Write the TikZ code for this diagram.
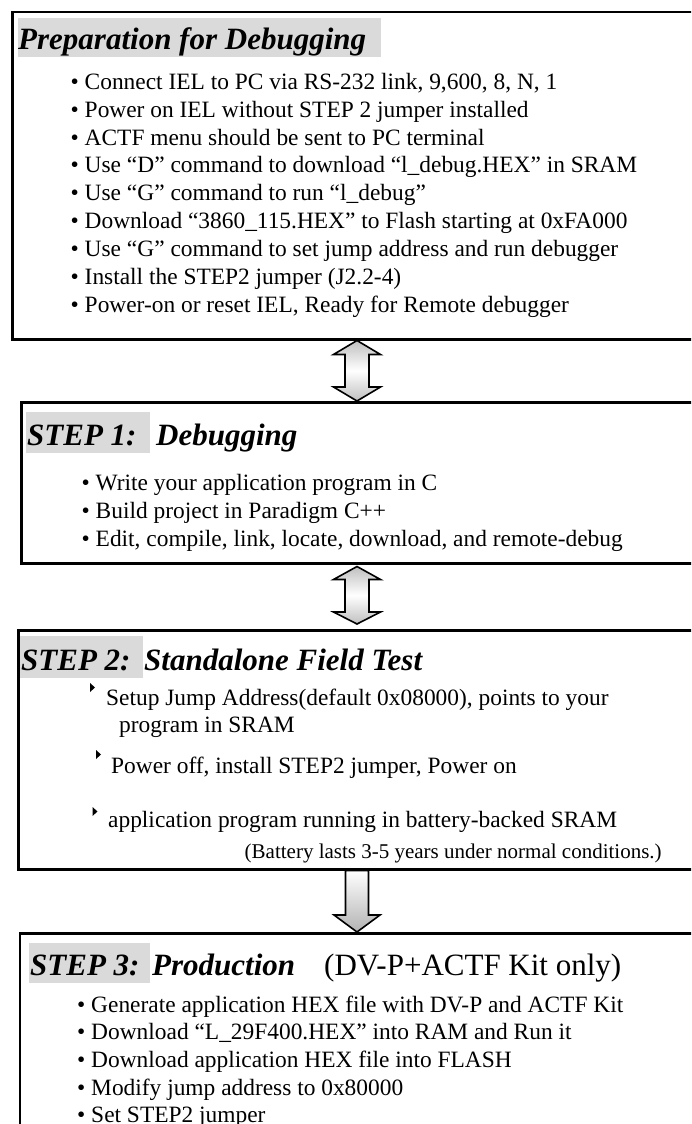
\documentclass[tikz,border=0pt]{standalone}
\usepackage{fontspec}
\setmainfont{Liberation Serif}
\usetikzlibrary{calc}

\definecolor{titlebg}{RGB}{218,218,218}

\tikzset{
  panel/.style={draw=black, line width=2.5pt, anchor=north west, inner sep=0pt, minimum width=700pt},
  headbg/.style={fill=titlebg, draw=none, anchor=north west, inner sep=0pt},
  headtext/.style={font=\fontsize{31}{36}\selectfont\bfseries\itshape, inner sep=0pt, anchor=base west},
  headnote/.style={font=\fontsize{31}{36}\selectfont, inner sep=0pt, anchor=base west},
  item/.style={font=\fontsize{23.4}{28}\selectfont, inner sep=0pt, anchor=base west},
  note/.style={font=\fontsize{21}{25}\selectfont, inner sep=0pt, anchor=base west},
  dblarrow/.style={draw=black, line width=1.6pt, line join=miter,
    top color=gray!50, bottom color=gray!50, middle color=white},
  downarrow/.style={draw=black, line width=1.6pt, line join=miter,
    top color=white, bottom color=gray!60},
  tri/.style={fill=black}
}

\begin{document}
\begin{tikzpicture}[x=1pt, y=-1pt]
\clip (0,0) rectangle (691,1124);
\fill[white] (0,0) rectangle (691,1124);

% ---------- Preparation for Debugging ----------
\node[panel, minimum height=327pt] (b1) at (11,11) {};
\node[headbg, minimum width=363pt, minimum height=39pt] (h1) at (18,18) {};
\node[headtext] (t1) at (18,50) {Preparation for Debugging};
\node[item] (p1) at (70.5,89)  {• Connect IEL to PC via RS-232 link, 9,600, 8, N, 1};
\node[item] (p2) at (70.5,117) {• Power on IEL without STEP 2 jumper installed};
\node[item] (p3) at (70.5,145) {• ACTF menu should be sent to PC terminal};
\node[item] (p4) at (70.5,172) {• Use “D” command to download “l\_debug.HEX” in SRAM};
\node[item] (p5) at (70.5,200) {• Use “G” command to run “l\_debug”};
\node[item] (p6) at (70.5,228) {• Download “3860\_115.HEX” to Flash starting at 0xFA000};
\node[item] (p7) at (70.5,256) {• Use “G” command to set jump address and run debugger};
\node[item] (p8) at (70.5,284) {• Install the STEP2 jumper (J2.2-4)};
\node[item] (p9) at (70.5,312) {• Power-on or reset IEL, Ready for Remote debugger};

% ---------- STEP 1 ----------
\node[panel, minimum height=161pt] (b2) at (20,401) {};
\node[headbg, minimum width=124pt, minimum height=41pt] (h2) at (26,412) {};
\node[headtext] (s1) at (27,445) {STEP 1:};
\node[headtext] (t2) at (156,445) {Debugging};
\node[item] (q1) at (81.5,490) {• Write your application program in C};
\node[item] (q2) at (81.5,518) {• Build project in Paradigm C++};
\node[item] (q3) at (81.5,546) {• Edit, compile, link, locate, download, and remote-debug};

% ---------- STEP 2 ----------
\node[panel, minimum height=239pt] (b3) at (17,629) {};
\node[headbg, minimum width=123pt, minimum height=42pt] (h3) at (20,636) {};
\node[headtext] (s2) at (21,670) {STEP 2:};
\node[headtext] (t3) at (144,670) {Standalone Field Test};
\fill[tri] (90,683) -- (95,687.5) -- (90,692) -- cycle;
\node[item] (r1) at (106,705) {Setup Jump Address(default 0x08000), points to your};
\node[item] (r1b) at (119,732) {program in SRAM};
\fill[tri] (96,750) -- (101,754.5) -- (96,759) -- cycle;
\node[item] (r2) at (111,773) {Power off, install STEP2 jumper, Power on};
\fill[tri] (92.5,807) -- (97.5,811.5) -- (92.5,816) -- cycle;
\node[item] (r3) at (108,827) {application program running in battery-backed SRAM};
\node[note] (r4) at (244.5,858) {(Battery lasts 3-5 years under normal conditions.)};

% ---------- STEP 3 ----------
\node[panel, minimum height=260pt] (b4) at (18.5,932) {};
\node[headbg, minimum width=121pt, minimum height=40pt] (h4) at (29,943) {};
\node[headtext] (s3) at (30,975) {STEP 3:};
\node[headtext] (t4) at (152,975) {Production};
\node[headnote] (k4) at (324,975) {(DV-P+ACTF Kit only)};
\node[item] (u1) at (77,1012) {• Generate application HEX file with DV-P and ACTF Kit};
\node[item] (u2) at (77,1039) {• Download “L\_29F400.HEX” into RAM and Run it};
\node[item] (u3) at (77,1067) {• Download application HEX file into FLASH};
\node[item] (u4) at (77,1095) {• Modify jump address to 0x80000};
\node[item] (u5) at (77,1122) {• Set STEP2 jumper};

% ---------- connectors between the stages ----------
\coordinate (ax) at (357,0);
\coordinate (a1t) at (b1.south -| ax);
\coordinate (a1b) at (b2.north -| ax);
\coordinate (a2t) at ($(b2.south -| ax)+(0,2)$);
\coordinate (a2b) at ($(b3.north -| ax)+(0,-5)$);
\coordinate (a3t) at (b3.south -| ax);
\coordinate (a3b) at (b4.north -| ax);

\path[dblarrow] (a1t) -- ++(23.5,14) -- ++(-11.5,0) -- ($(a1b)+(12,-14)$) -- ++(11.5,0)
  -- (a1b) -- ++(-23.5,-14) -- ++(11.5,0) -- ($(a1t)+(-12,14)$) -- ++(-11.5,0) -- cycle;
\path[dblarrow] (a2t) -- ++(23.5,13) -- ++(-11.5,0) -- ($(a2b)+(12,-12)$) -- ++(11.5,0)
  -- (a2b) -- ++(-23.5,-12) -- ++(11.5,0) -- ($(a2t)+(-12,13)$) -- ++(-11.5,0) -- cycle;
\path[downarrow] ($(a3t)+(-11.5,0)$) -- ($(a3t)+(11.5,0)$) -- ($(a3b)+(11.5,-17)$) -- ++(11.5,0)
  -- (a3b) -- ++(-23,-17) -- ++(11.5,0) -- cycle;
\end{tikzpicture}
\end{document}
